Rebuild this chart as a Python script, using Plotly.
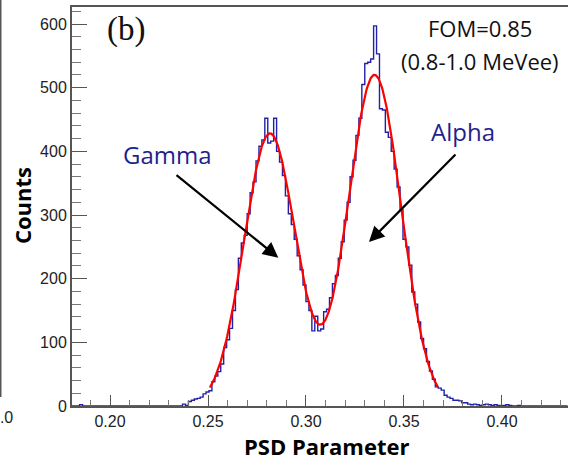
import numpy as np
import plotly.graph_objects as go

# ---- histogram of the PSD parameter (fixed-width bins) ----
bin_lo = 0.1800
bin_width = 0.0015
counts = [
    0, 0, 0, 2, 0, 0, 0, 0, 0, 0,
    0, 0, 0, 0, 0, 0, 0, 0, 0, 0,
    0, 0, 0, 0, 0, 0, 0, 0, 0, 0,
    0, 0, 0, 0, 0, 0, 0, 0, 3, 1,
    7, 9, 11, 12, 14, 19, 22, 24, 38, 47,
    54, 66, 92, 104, 122, 150, 183, 232, 256, 268,
    302, 335, 352, 385, 408, 418, 452, 413, 416, 452,
    400, 383, 362, 330, 302, 285, 262, 236, 214, 190,
    164, 150, 118, 141, 118, 121, 148, 152, 170, 192,
    205, 232, 258, 292, 320, 360, 386, 425, 452, 505,
    538, 540, 545, 597, 553, 467, 465, 430, 422, 400,
    372, 344, 308, 262, 250, 221, 179, 160, 132, 106,
    90, 70, 55, 42, 30, 28, 25, 17, 14, 12,
    9, 9, 8, 5, 5, 3, 2, 3, 2, 1,
    2, 3, 2, 1, 2, 1, 0, 1, 2, 1,
    0, 0, 1, 0, 0, 0, 0, 0, 0, 0,
    0, 0, 0, 0, 0, 0, 0, 0, 0,
]

# ---- double-Gaussian fit (gamma + alpha) ----
gamma_amp, gamma_mean, gamma_sigma = 428.0, 0.2816, 0.0132
alpha_amp, alpha_mean, alpha_sigma = 520.0, 0.3350, 0.0135
fit_range = [0.2510, 0.3673]

# ---- axes ----
x_range = [0.1806, 0.4337]
y_range = [0, 626.7]
x_ticks = [0.20, 0.25, 0.30, 0.35, 0.40]
y_ticks = [0, 100, 200, 300, 400, 500, 600]

n = len(counts)
edges = bin_lo + bin_width * np.arange(n + 1)
step_x = edges
step_y = list(counts) + [counts[-1]]

fx = np.linspace(fit_range[0], fit_range[1], 400)
fy = (gamma_amp * np.exp(-0.5 * ((fx - gamma_mean) / gamma_sigma) ** 2)
      + alpha_amp * np.exp(-0.5 * ((fx - alpha_mean) / alpha_sigma) ** 2))

fig = go.Figure()
fig.add_trace(go.Scatter(x=step_x, y=step_y, mode="lines",
                         line=dict(shape="hv", color="#2020aa", width=1.4),
                         hoverinfo="skip"))
fig.add_trace(go.Scatter(x=fx, y=fy, mode="lines",
                         line=dict(color="#ff0000", width=2.2),
                         hoverinfo="skip"))

axis_col = "#555555"
tick_font = dict(family="Liberation Sans, Arial, sans-serif", size=16, color="#222222")

fig.update_xaxes(range=x_range, tickvals=x_ticks, ticktext=[f"{v:.2f}" for v in x_ticks],
                 ticks="inside", ticklen=11, tickwidth=1.3, tickcolor=axis_col,
                 showline=True, linecolor=axis_col, linewidth=2, mirror=True,
                 showgrid=False, zeroline=False, tickfont=tick_font,
                 minor=dict(ticks="inside", tick0=0.2, dtick=0.01, ticklen=6,
                            tickwidth=1, tickcolor="#777777", showgrid=False))
fig.update_yaxes(range=y_range, tickvals=y_ticks,
                 ticks="inside", ticklen=15, tickwidth=1.3, tickcolor=axis_col,
                 showline=True, linecolor=axis_col, linewidth=2, mirror=False,
                 showgrid=False, zeroline=False, tickfont=tick_font,
                 minor=dict(ticks="inside", tick0=0, dtick=20, ticklen=9,
                            tickwidth=1, tickcolor="#777777", showgrid=False))

label_blue = "#1f1f8f"
sans = "Open Sans, Noto Sans, sans-serif"
centered = dict(xanchor="center", yanchor="middle", showarrow=False)
annotations = [
    dict(text="(b)", x=0.1089, y=0.9424, xref="paper", yref="paper", **centered,
         font=dict(family="Liberation Serif, serif", size=33, color="#111111")),
    dict(text="FOM=0.85", x=0.8226, y=0.9474, xref="paper", yref="paper", **centered,
         font=dict(family=sans, size=22, color="#111111")),
    dict(text="(0.8-1.0 MeVee)", x=0.8226, y=0.8647, xref="paper", yref="paper", **centered,
         font=dict(family=sans, size=22, color="#111111")),
    dict(text="Gamma", x=0.2291, y=395.8, xref="x", yref="y", **centered,
         font=dict(family=sans, size=24, color=label_blue)),
    dict(text="Alpha", x=0.3801, y=431.9, xref="x", yref="y", **centered,
         font=dict(family=sans, size=24, color=label_blue)),
    dict(text="", x=0.28587, y=232.9, ax=0.23316, ay=364.4,
         xref="x", yref="y", axref="x", ayref="y", showarrow=True,
         arrowhead=2, arrowsize=1.4, arrowwidth=2.2, arrowcolor="#000000", standoff=0),
    dict(text="", x=0.33214, y=257.6, ax=0.37704, ay=397.4,
         xref="x", yref="y", axref="x", ayref="y", showarrow=True,
         arrowhead=2, arrowsize=1.4, arrowwidth=2.2, arrowcolor="#000000", standoff=0),
    dict(text="Counts", x=-0.1008, y=0.501, xref="paper", yref="paper", textangle=-90,
         **centered, font=dict(family=sans, size=22, color="#000000", weight="bold")),
    dict(text="PSD Parameter", x=0.514, y=-0.1, xref="paper", yref="paper", **centered,
         font=dict(family=sans, size=22, color="#000000", weight="bold")),
    dict(text="1.0", x=-0.115, y=-0.030, xref="paper", yref="paper",
         xanchor="right", yanchor="middle", showarrow=False, font=tick_font),
]

fig.update_layout(
    width=568, height=462,
    margin=dict(l=72, r=0, t=7, b=56),
    plot_bgcolor="white", paper_bgcolor="white",
    showlegend=False,
    annotations=annotations,
    shapes=[dict(type="line", xref="paper", yref="paper",
                 x0=-0.1442, x1=-0.1442, y0=0.0226, y1=1.02,
                 line=dict(color=axis_col, width=2))],
)

fig.write_html("out.html")
